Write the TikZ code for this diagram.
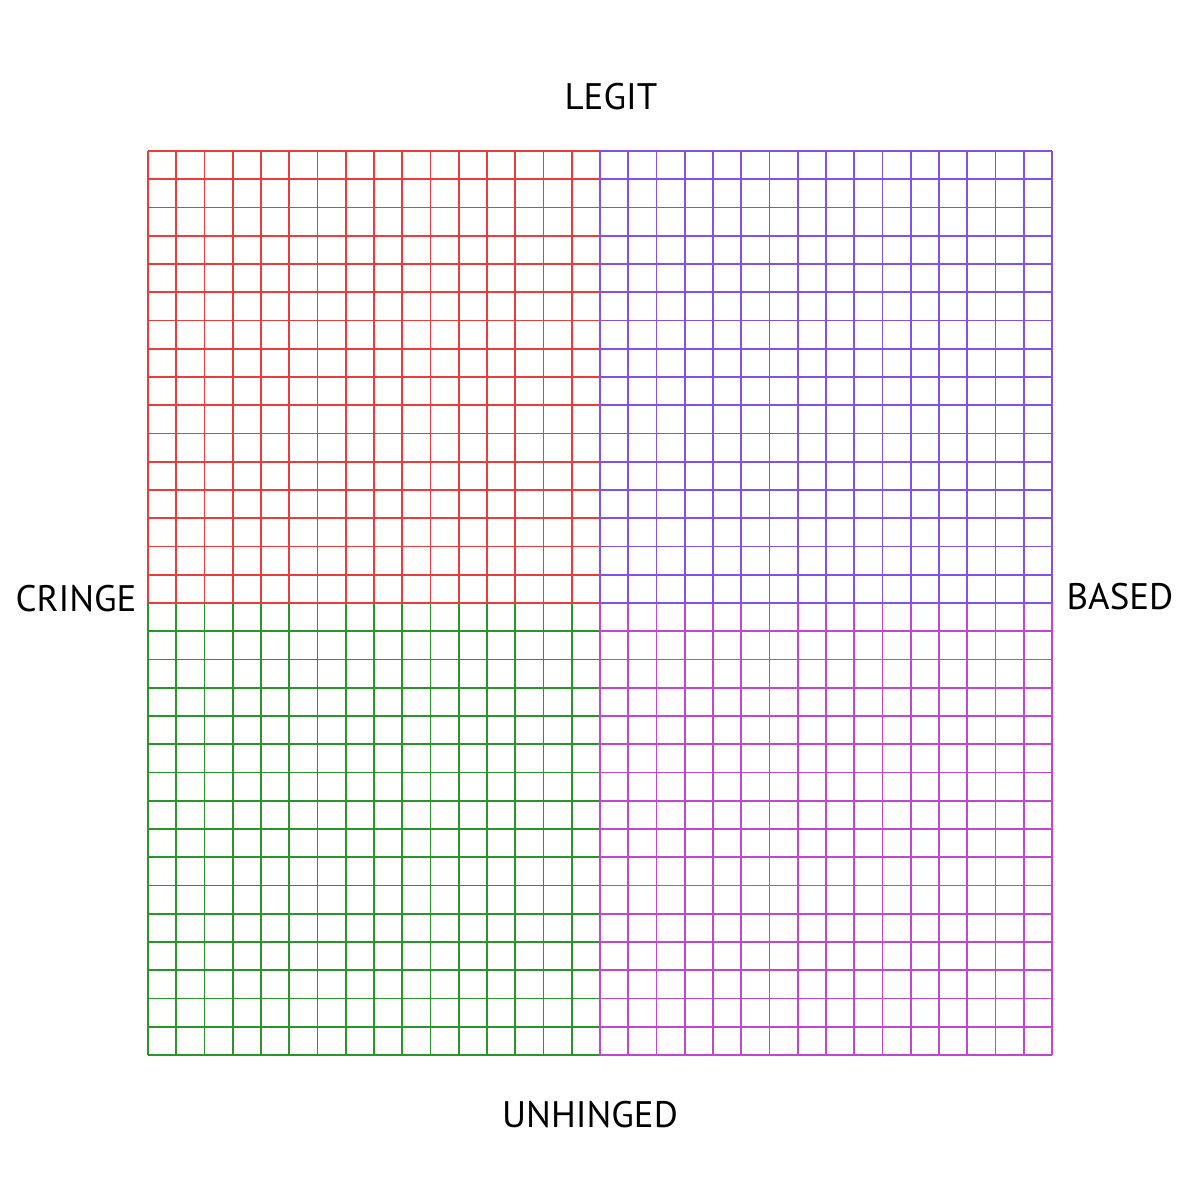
\documentclass[tikz,border=0pt]{standalone}
\usepackage{fontspec}
\setmainfont{PT Sans}
\definecolor{cringered}{RGB}{235, 60, 60}
\definecolor{legitblue}{RGB}{130, 80, 235}
\definecolor{unhingedgreen}{RGB}{40, 150, 40}
\definecolor{basedpink}{RGB}{195, 70, 210}

\begin{document}
\begin{tikzpicture}[
                x=0.2825cm, y=0.2825cm,
                cell/.style={line width=0.5pt, step=0.2825cm},
                axislabel/.style={font=\fontsize{10.5}{12}\selectfont, inner sep=0pt}
            ]

            \useasboundingbox (-1.48cm, -1.45cm) rectangle (10.52cm, 10.55cm);

            % quadrants, drawn so the shared edges come out as in the chart
            \draw[cell, unhingedgreen] (0, 0) grid (16, 16);
            \draw[cell, basedpink] (16, 0) grid (32, 16);
            \draw[cell, cringered] (0, 16) grid (16, 32);
            \draw[cell, legitblue] (16, 16) grid (32, 32);

            \node[axislabel] (legit) at (4.63cm, 9.58cm) {LEGIT};
            \node[axislabel] (unhinged) at (4.42cm, -0.60cm) {UNHINGED};
            \node[axislabel] (cringe) at (-0.72cm, 4.56cm) {CRINGE};
            \node[axislabel] (based) at (9.72cm, 4.58cm) {BASED};

            \end{tikzpicture}
\end{document}
